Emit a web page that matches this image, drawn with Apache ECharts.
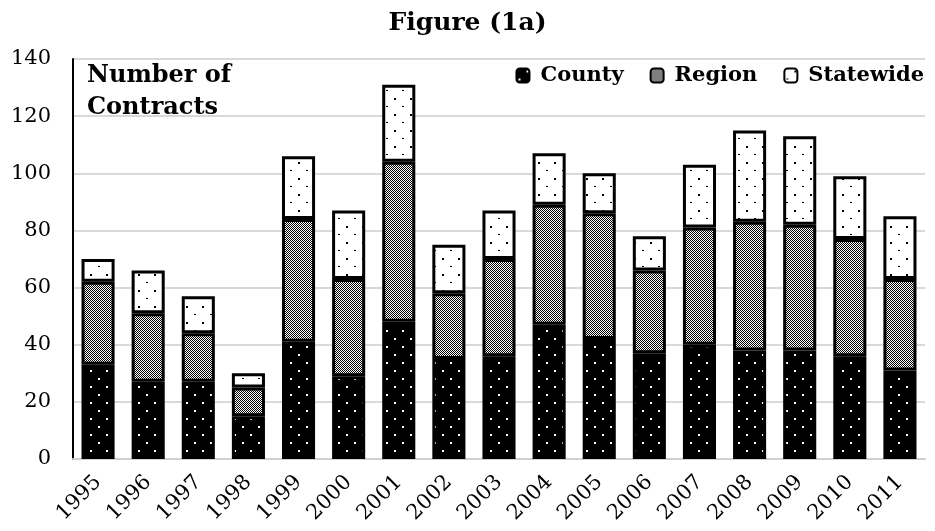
<!DOCTYPE html>
<html><head><meta charset="utf-8">
<script src="https://cdn.jsdelivr.net/npm/echarts@6/dist/echarts.min.js"></script>
<style>html,body{margin:0;padding:0;background:#fff}#c{width:935px;height:531px}</style>
</head><body><div id="c"></div>
<script>
const years = ['1995','1996','1997','1998','1999','2000','2001','2002','2003','2004','2005','2006','2007','2008','2009','2010','2011'];
const county    = [33,27,27,15,41,29,48,35,36,47,42,37,40,38,38,36,31];
const region    = [29,24,17,10,43,34,56,23,34,42,44,29,41,45,44,41,32];
const statewide = [8,15,13,5,22,24,27,17,17,18,14,12,22,32,31,22,22];
const yTicks = [0,20,40,60,80,100,120,140];

function pattern(kind){
  const c = document.createElement('canvas');
  const ctx = c.getContext('2d');
  if(kind==='county'){
    c.width=16;c.height=16;
    ctx.fillStyle='#000';ctx.fillRect(0,0,16,16);
    ctx.fillStyle='#fff';
    ctx.fillRect(10,2,2,2);ctx.fillRect(2,10,2,2);
  } else if(kind==='region'){
    c.width=2;c.height=2;
    ctx.fillStyle='#fff';ctx.fillRect(0,0,2,2);
    ctx.fillStyle='#000';
    ctx.fillRect(0,0,1,1);ctx.fillRect(1,1,1,1);
  } else {
    c.width=16;c.height=16;
    ctx.fillStyle='#fff';ctx.fillRect(0,0,16,16);
    ctx.fillStyle='#000';
    ctx.fillRect(10,2,2,2);ctx.fillRect(2,10,2,1);
  }
  return {image:c, repeat:'repeat'};
}

const font = '"DejaVu Serif", "Liberation Serif", serif';
const chart = echarts.init(document.getElementById('c'));
function mk(name,data,kind){
  return {name, type:'bar', stack:'t', data, barWidth:'66%',
    itemStyle:{color:pattern(kind), borderColor:'#000', borderWidth:3}};
}
chart.setOption({
  animation:false,
  textStyle:{fontFamily:font},
  title:{text:'Figure (1a)', left:'center', top:6,
    textStyle:{fontFamily:font, fontWeight:'bold', fontSize:25, color:'#000'}},
  legend:{top:60, right:6, itemWidth:13, itemHeight:14, itemGap:26,
    textStyle:{fontFamily:font, fontWeight:'bold', fontSize:21, color:'#000', padding:[0,0,0,6]},
    data:['County','Region','Statewide']},
  graphic:[{type:'text', left:87, top:60, style:{text:'Number of\nContracts', fontFamily:font,
    fontWeight:'bold', fontSize:24, lineHeight:32, fill:'#000'}}],
  grid:{left:73, right:10, top:59, bottom:72},
  xAxis:{type:'category', data:years,
    axisLine:{lineStyle:{color:'#d0d0d0', width:2}}, axisTick:{show:false},
    axisLabel:{rotate:45, fontSize:21, color:'#000', fontFamily:font, margin:20}},
  yAxis:{type:'value', min:0, max:140, interval:20,
    axisLine:{show:true, lineStyle:{color:'#000', width:2}},
    axisTick:{show:false},
    splitLine:{lineStyle:{color:'#d9d9d9', width:2}},
    axisLabel:{fontSize:21, color:'#000', fontFamily:font, margin:22,
      formatter:v=>yTicks.includes(v)?String(v):''}},
  series:[mk('County',county,'county'), mk('Region',region,'region'), mk('Statewide',statewide,'state')]
});
</script></body></html>
